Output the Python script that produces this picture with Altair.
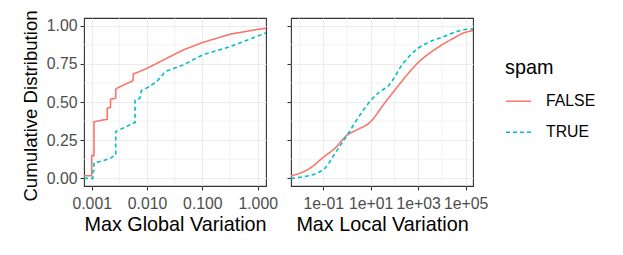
import altair as alt
import pandas as pd

# ---- data (x in original units, y = cumulative share) ----
left_false_x = [7.26e-4, 1.0e-3, 1.0e-3, 1.10e-3, 1.10e-3, 1.91e-3, 1.91e-3, 2.19e-3, 2.19e-3,
                2.72e-3, 2.72e-3, 3.02e-3, 3.98e-3, 5.28e-3, 5.60e-3, 5.65e-3, 6.31e-3, 1.01e-2,
                1.97e-2, 4.53e-2, 0.1, 0.316, 1.026, 1.413]
left_false_y = [0.017, 0.017, 0.149, 0.149, 0.371, 0.387, 0.459, 0.465, 0.518,
                0.525, 0.583, 0.595, 0.615, 0.635, 0.640, 0.684, 0.690, 0.721,
                0.775, 0.841, 0.889, 0.944, 0.976, 0.983]

left_true_x = [7.26e-4, 1.05e-3, 1.05e-3, 1.10e-3, 1.10e-3, 1.41e-3, 2.14e-3, 2.64e-3, 2.72e-3,
               2.72e-3, 3.72e-3, 5.65e-3, 6.07e-3, 6.07e-3, 6.95e-3, 7.41e-3, 7.94e-3, 1.05e-2,
               1.49e-2, 1.97e-2, 2.11e-2, 4.53e-2, 0.1, 0.316, 1.026, 1.413]
left_true_y = [0.0, 0.0, 0.044, 0.050, 0.103, 0.110, 0.130, 0.153, 0.153,
               0.306, 0.330, 0.361, 0.365, 0.513, 0.520, 0.525, 0.575, 0.597,
               0.633, 0.684, 0.699, 0.743, 0.808, 0.862, 0.933, 0.954]

right_false_x = [4.37e-3, 2.75e-2, 0.1, 0.311, 1.026, 2.55, 9.93, 33.7, 104.7, 446.7, 1000,
                 6026, 30200, 1e5, 2.04e5]
right_false_y = [0.016, 0.066, 0.138, 0.197, 0.284, 0.317, 0.371, 0.481, 0.579, 0.699, 0.758,
                 0.852, 0.917, 0.957, 0.967]

right_true_x = [4.37e-3, 1.45e-2, 5.25e-2, 0.117, 0.311, 1.026, 3.52, 9.93, 24.5, 55.0, 234.4,
                1000, 2291, 10230, 41690, 109600, 2.04e5]
right_true_y = [0.0, 0.011, 0.033, 0.066, 0.164, 0.284, 0.415, 0.509, 0.568, 0.605, 0.754,
                0.852, 0.885, 0.924, 0.961, 0.976, 0.978]

groups = ["FALSE", "TRUE"]
colors = ["#F8766D", "#00BFC4"]
dashes = [[1, 0], [4, 3]]

left_ticks = [0.001, 0.01, 0.1, 1.0]
left_minor = [10 ** -2.5, 10 ** -1.5, 10 ** -0.5]
left_domain = [10 ** -3.139, 10 ** 0.150]

right_ticks = [0.1, 10, 1000, 100000]
right_tick_labels = ["1e-01", "1e+01", "1e+03", "1e+05"]
right_minor = [0.01, 1, 100, 10000]
right_domain = [10 ** -2.36, 10 ** 5.31]

y_ticks = [0, 0.25, 0.5, 0.75, 1.0]
y_minor = [0.125, 0.375, 0.625, 0.875]

FONT = "Liberation Sans"
GRID = "#EBEBEB"
PW, PH = 182, 168


def frame(xf, yf, xt, yt):
    a = pd.DataFrame({"x": xf, "y": yf, "spam": "FALSE"})
    a["i"] = range(len(a))
    b = pd.DataFrame({"x": xt, "y": yt, "spam": "TRUE"})
    b["i"] = range(len(b))
    return pd.concat([a, b], ignore_index=True)


def panel(df, domain, ticks, minor, xtitle, label_expr, ylabels, interp):
    xenc = alt.X("x:Q", scale=alt.Scale(type="log", domain=domain, nice=False),
                 axis=alt.Axis(values=ticks, labelExpr=label_expr, title=xtitle))
    if ylabels:
        yaxis = alt.Axis(values=y_ticks, format=".2f", title="Cumulative Distribution",
                         titleFontSize=18.6, titleY=87.5, titlePadding=6)
    else:
        yaxis = alt.Axis(values=y_ticks, labels=False, title=None)
    yenc = alt.Y("y:Q", scale=alt.Scale(domain=[-0.05, 1.05], nice=False, zero=False), axis=yaxis)
    gx = alt.Chart(pd.DataFrame({"x": minor})).mark_rule(color=GRID, strokeWidth=0.6).encode(x=xenc)
    gy = alt.Chart(pd.DataFrame({"y": y_minor})).mark_rule(color=GRID, strokeWidth=0.6).encode(y=yenc)
    leg = alt.Legend(title="spam", orient="none", legendX=421, legendY=40)
    lines = alt.Chart(df).mark_line(strokeWidth=1.6, clip=True, interpolate=interp).encode(
        x=xenc, y=yenc,
        color=alt.Color("spam:N", scale=alt.Scale(domain=groups, range=colors), legend=leg),
        strokeDash=alt.StrokeDash("spam:N", scale=alt.Scale(domain=groups, range=dashes), legend=leg),
        order="i:Q",
    )
    return alt.layer(gx, gy, lines).properties(width=PW, height=PH)


left_expr = "format(datum.value, '.3f')"
right_expr = " : ".join(
    f"datum.value < {t * 3} ? '{l}'" for t, l in zip(right_ticks[:-1], right_tick_labels[:-1])
) + f" : '{right_tick_labels[-1]}'"

left = panel(frame(left_false_x, left_false_y, left_true_x, left_true_y),
             left_domain, left_ticks, left_minor, "Max Global Variation", left_expr, True, "linear")
right = panel(frame(right_false_x, right_false_y, right_true_x, right_true_y),
              right_domain, right_ticks, right_minor, "Max Local Variation", right_expr, False, "monotone")

chart = alt.hconcat(left, right, spacing=25, bounds="flush").properties(
    autosize=alt.AutoSizeParams(type="none"),
    padding={"left": 76, "top": 10, "right": 531, "bottom": 229},
).configure_view(
    stroke="#333333", strokeWidth=1.1
).configure_axis(
    grid=True, gridColor=GRID, gridWidth=1.1, domain=False,
    tickColor="#333333", tickSize=4, tickWidth=1.1,
    labelFont=FONT, labelFontSize=15.8, labelColor="#4D4D4D", labelPadding=3,
    titleFont=FONT, titleFontSize=19.8, titleFontWeight="normal", titleColor="#000000",
).configure_axisX(titlePadding=4, labelPadding=6).configure_legend(
    titleFont=FONT, titleFontSize=19.8, titleFontWeight="normal", titleColor="#000000",
    labelFont=FONT, labelFontSize=15.8, labelColor="#000000",
    symbolType="stroke", symbolSize=625, symbolStrokeWidth=1.6, labelOffset=14,
    titlePadding=10, rowPadding=9, padding=0,
)

chart.save("out.html", embed_options={"renderer": "svg", "actions": False})
